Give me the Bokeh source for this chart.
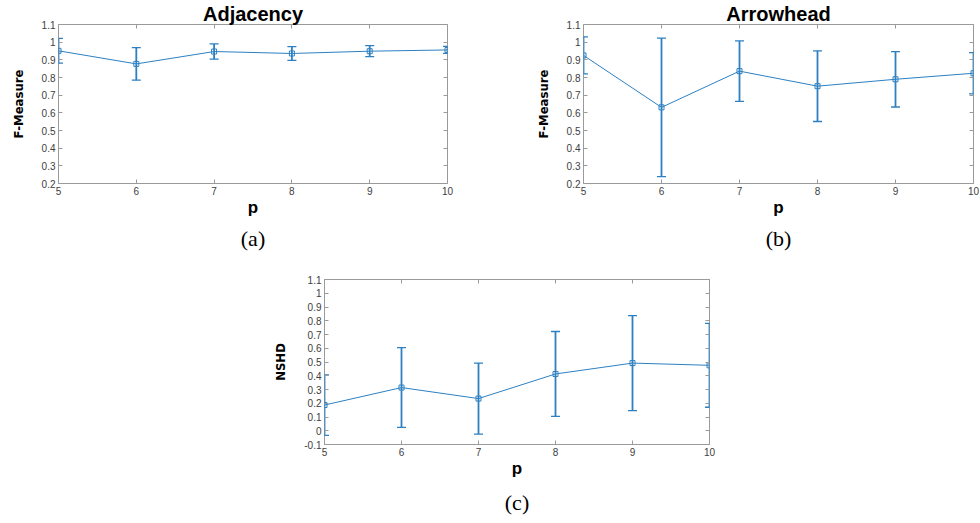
from bokeh.plotting import figure
from bokeh.models import Range1d, FixedTicker, LinearAxis, Whisker, TeeHead, ColumnDataSource, Title, Spacer
from bokeh.layouts import column, row
from bokeh.embed import file_html
from bokeh.resources import INLINE

# ---------------- data ----------------
p_values = [5, 6, 7, 8, 9, 10]
x_tick_labels = ["5", "6", "7", "8", "9", "10"]

adj_mean = [0.951, 0.877, 0.947, 0.936, 0.949, 0.956]
adj_err = [0.070, 0.092, 0.043, 0.039, 0.031, 0.020]

arrow_mean = [0.925, 0.631, 0.836, 0.751, 0.790, 0.824]
arrow_err = [0.105, 0.392, 0.171, 0.200, 0.157, 0.117]

nshd_mean = [0.187, 0.314, 0.234, 0.413, 0.492, 0.476]
nshd_err = [0.220, 0.290, 0.258, 0.309, 0.345, 0.305]

f_ticks = [0.2, 0.3, 0.4, 0.5, 0.6, 0.7, 0.8, 0.9, 1.0, 1.1]
f_tick_labels = ["0.2", "0.3", "0.4", "0.5", "0.6", "0.7", "0.8", "0.9", "1", "1.1"]
n_ticks = [-0.1, 0.0, 0.1, 0.2, 0.3, 0.4, 0.5, 0.6, 0.7, 0.8, 0.9, 1.0, 1.1]
n_tick_labels = ["-0.1", "0", "0.1", "0.2", "0.3", "0.4", "0.5", "0.6", "0.7", "0.8", "0.9", "1", "1.1"]

BLUE = "#2d80c2"
GRAY = "#9a9a9a"
TICK_TXT = "#404040"


def make_panel(means, errs, yticks, ylabels, ystart, yend, ylabel, title, caption,
               width, height, mbl, mbr, mbt, mbb, cap_standoff):
    p = figure(width=width, height=height,
               x_range=Range1d(5, 10), y_range=Range1d(ystart, yend),
               output_backend="svg", toolbar_location=None,
               min_border_left=mbl, min_border_right=mbr,
               min_border_top=mbt, min_border_bottom=mbb)
    if title:
        p.title.text = title
        p.title.align = "center"
        p.title.text_font = "Liberation Sans"
        p.title.text_font_style = "bold"
        p.title.text_font_size = "20px"
        p.title.text_color = "black"
        p.title.standoff = 0
    p.xgrid.visible = False
    p.ygrid.visible = False
    p.outline_line_color = GRAY
    p.outline_line_width = 1
    p.background_fill_color = "white"
    p.border_fill_color = "white"

    xa = p.xaxis[0]
    xa.ticker = FixedTicker(ticks=p_values)
    xa.major_label_overrides = {v: l for v, l in zip(p_values, x_tick_labels)}
    ya = p.yaxis[0]
    ya.ticker = FixedTicker(ticks=yticks)
    ya.major_label_overrides = {v: l for v, l in zip(yticks, ylabels)}
    for ax in (xa, ya):
        ax.axis_line_color = None
        ax.major_tick_in = 4
        ax.major_tick_out = 0
        ax.major_tick_line_color = GRAY
        ax.minor_tick_line_color = None
        ax.major_label_text_font = "Liberation Sans"
        ax.major_label_text_font_size = "10px"
        ax.major_label_text_color = TICK_TXT
        ax.major_label_standoff = 3
        ax.axis_label_text_font_style = "bold"
        ax.axis_label_text_color = "black"
    xa.axis_label = "p"
    xa.axis_label_text_font = "Liberation Sans"
    xa.axis_label_text_font_size = "17px"
    xa.axis_label_standoff = 0
    ya.axis_label = ylabel
    ya.axis_label_text_font = "DejaVu Sans Condensed"
    ya.axis_label_text_font_size = "13px"
    ya.axis_label_standoff = 13

    # box ticks on top and right
    ra = LinearAxis(ticker=FixedTicker(ticks=yticks),
                    major_label_overrides={v: "" for v in yticks})
    ta = LinearAxis(ticker=FixedTicker(ticks=p_values),
                    major_label_overrides={v: "" for v in p_values})
    for ax in (ra, ta):
        ax.axis_line_color = None
        ax.major_tick_in = 4
        ax.major_tick_out = 0
        ax.major_tick_line_color = GRAY
        ax.minor_tick_line_color = None
        ax.major_label_text_font_size = "0px"
        ax.major_label_standoff = 0
    p.add_layout(ra, "right")
    p.add_layout(ta, "above")

    src = ColumnDataSource(dict(
        x=p_values, y=means,
        upper=[m + e for m, e in zip(means, errs)],
        lower=[m - e for m, e in zip(means, errs)]))
    wh = Whisker(source=src, base="x", upper="upper", lower="lower",
                 dimension="height", line_color=BLUE, line_width=1.8,
                 upper_head=TeeHead(size=9, line_color=BLUE, line_width=1.3),
                 lower_head=TeeHead(size=9, line_color=BLUE, line_width=1.3))
    p.add_layout(wh)
    p.line("x", "y", source=src, line_color=BLUE, line_width=1)
    p.scatter("x", "y", source=src, marker="square", size=5,
              fill_color=None, line_color=BLUE, line_width=1)

    cap = Title(text=caption, align="center", text_font="Liberation Serif",
                text_font_size="22px", text_font_style="normal",
                text_color="black", standoff=cap_standoff, offset=-8)
    p.add_layout(cap, "below")
    return p


pa = make_panel(adj_mean, adj_err, f_ticks, f_tick_labels, 0.2, 1.1,
                "F-Measure", "Adjacency", "(a)",
                490, 258, 58, 43, 22, 75, 8)
pb = make_panel(arrow_mean, arrow_err, f_ticks, f_tick_labels, 0.2, 1.1,
                "F-Measure", "Arrowhead", "(b)",
                490, 258, 93, 7, 22, 75, 8)
pc = make_panel(nshd_mean, nshd_err, n_ticks, n_tick_labels, -0.1, 1.1,
                "NSHD", None, "(c)",
                469, 265, 50, 30, 21, 79, 15)

layout = column(row(pa, pb), row(Spacer(width=270, height=265), pc))

open("out.html", "w").write(file_html(layout, INLINE))
